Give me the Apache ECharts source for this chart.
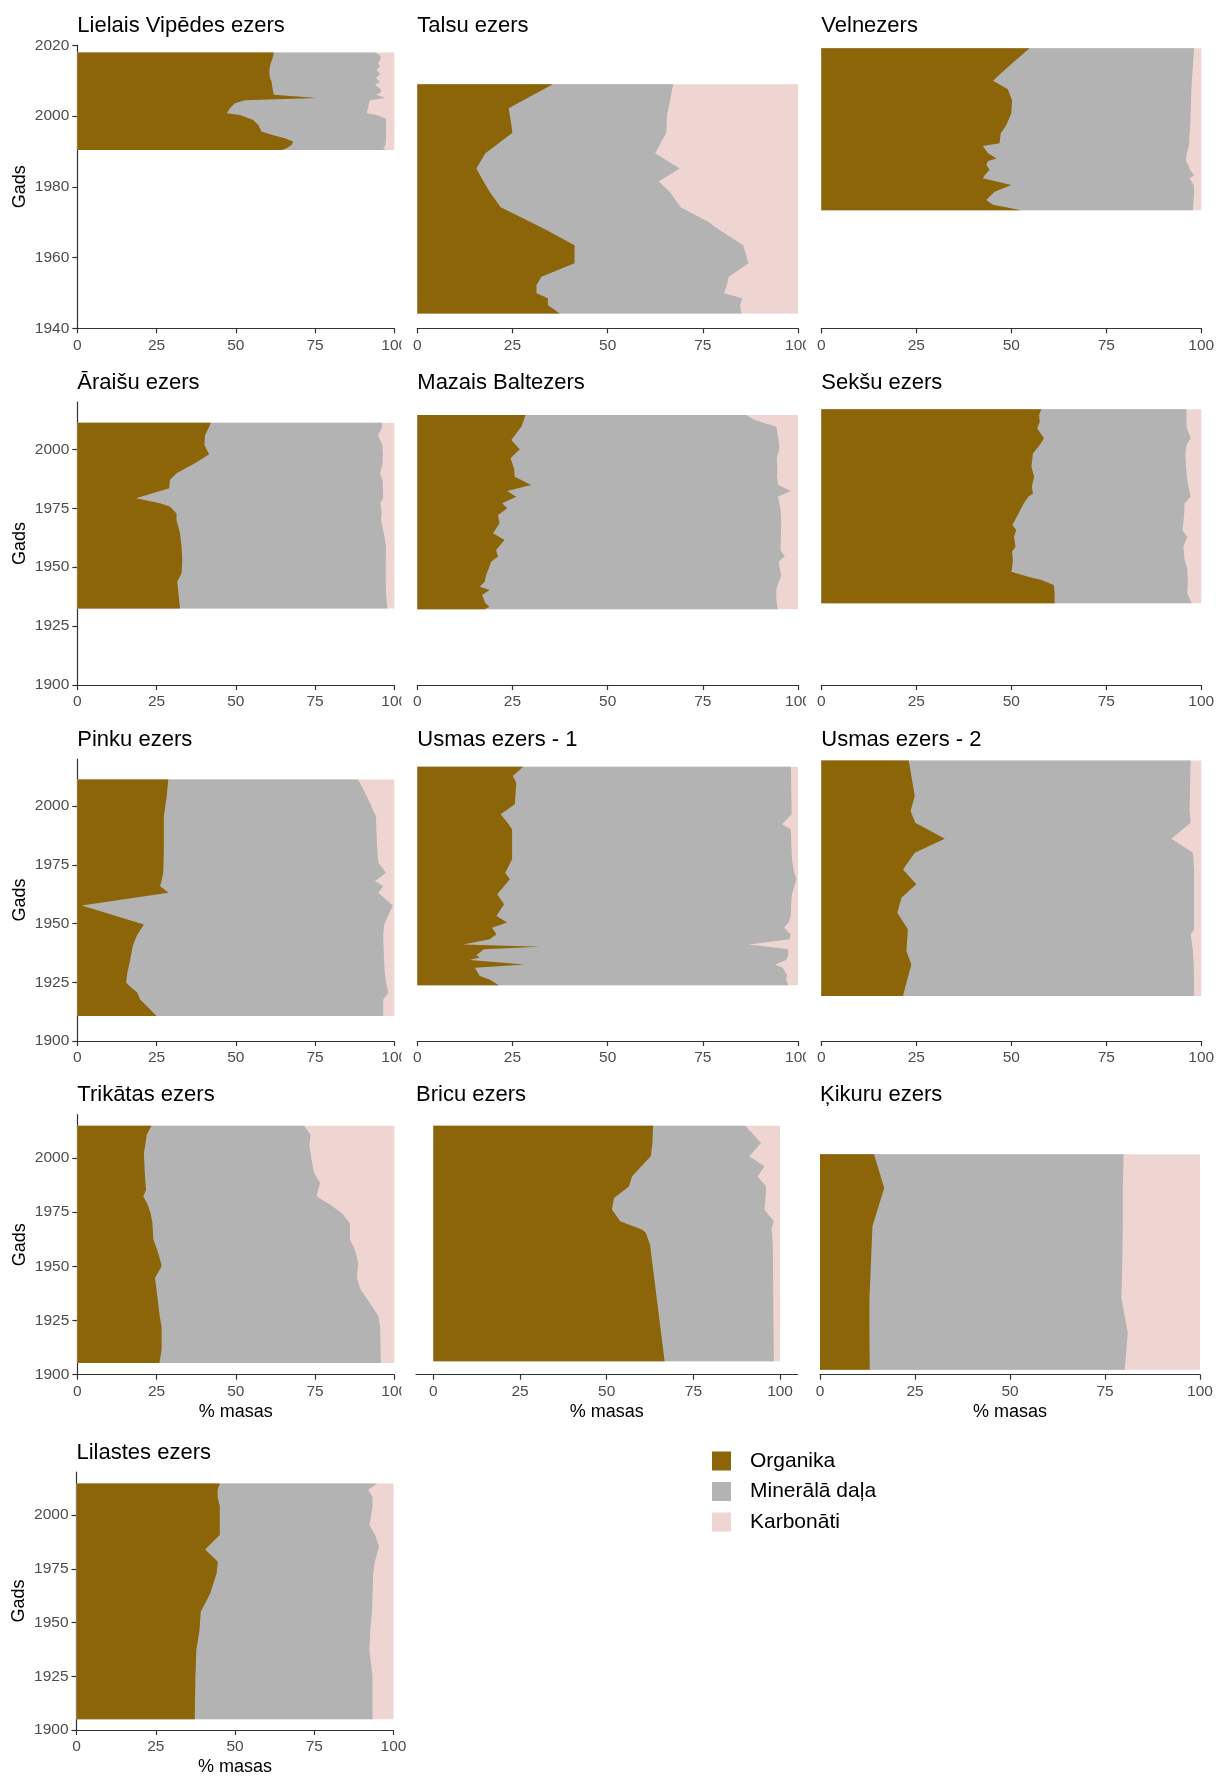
<!DOCTYPE html>
<html>
<head>
<meta charset="utf-8">
<title>Nogulumu sastāvs</title>
<script src="https://cdn.jsdelivr.net/npm/echarts@6/dist/echarts.min.js"></script>
<style>
  html, body { margin: 0; padding: 0; background: #ffffff; }
  #chart { width: 1216px; height: 1778px; }
</style>
</head>
<body>
<div id="chart"></div>
<script>
// Sediment composition by lake: organic, mineral and carbonate shares (% of mass) per dated layer.
// Years run from the core top (newest) to the bottom (oldest).

// Lielais Vipēdes ezers
const vipedesYears     = [2018.0, 2017.2, 2016.3, 2014.9, 2014.0, 2013.0, 2011.9, 2010.7, 2009.7, 2008.8, 2007.8, 2006.9, 2006.0, 2005.1, 2004.5, 2003.6, 2002.2, 2000.8, 2000.3, 1999.4, 1998.9, 1997.5, 1995.6, 1994.6, 1993.7, 1992.8, 1991.8, 1990.9, 1990.4];
const vipedesOrganic   = [62.0, 61.8, 61.6, 61.0, 60.8, 60.6, 60.6, 60.8, 61.3, 61.4, 61.6, 61.8, 62.0, 75.5, 52.9, 49.7, 48.2, 47.1, 51.3, 54.0, 55.5, 57.1, 58.1, 61.8, 65.5, 68.1, 67.6, 66.0, 64.5];
const vipedesMineral   = [31.9, 33.7, 34.1, 33.9, 34.7, 33.8, 34.9, 33.4, 34.2, 32.5, 33.9, 34.2, 32.4, 21.6, 39.4, 42.3, 43.5, 44.2, 43.1, 43.1, 41.9, 40.3, 39.3, 35.6, 31.9, 29.2, 29.6, 30.5, 32.9];
const vipedesCarbonate = [6.1, 4.5, 4.3, 5.1, 4.5, 5.6, 4.5, 5.8, 4.5, 6.1, 4.5, 4.0, 5.6, 2.9, 7.7, 8.0, 8.3, 8.7, 5.6, 2.9, 2.6, 2.6, 2.6, 2.6, 2.6, 2.7, 2.8, 3.5, 2.6];

// Talsu ezers
const talsuYears     = [2009.0, 2002.2, 2000.3, 1995.3, 1989.5, 1985.2, 1981.5, 1978.6, 1974.2, 1970.1, 1967.8, 1963.5, 1958.4, 1954.6, 1952.2, 1949.9, 1948.5, 1946.6, 1944.2];
const talsuOrganic   = [35.6, 24.0, 24.3, 25.0, 17.9, 15.5, 17.4, 19.0, 21.9, 29.6, 33.9, 41.3, 41.3, 32.6, 31.3, 31.3, 34.3, 34.3, 37.4];
const talsuMineral   = [31.6, 42.0, 41.3, 40.4, 44.6, 53.4, 46.0, 47.3, 47.3, 46.8, 45.5, 44.3, 45.7, 49.2, 50.0, 49.3, 51.1, 50.5, 47.7];
const talsuCarbonate = [32.8, 34.0, 34.4, 34.6, 37.5, 31.1, 36.6, 33.7, 30.8, 23.6, 20.6, 14.4, 13.0, 18.2, 18.7, 19.4, 14.6, 15.2, 14.9];

// Velnezers
const velnYears     = [2019.2, 2015.9, 2012.6, 2010.0, 2007.6, 2004.5, 2000.8, 1997.5, 1995.1, 1992.3, 1991.5, 1989.5, 1988.0, 1987.3, 1986.2, 1984.8, 1983.3, 1982.4, 1980.5, 1978.6, 1976.3, 1974.9, 1973.4];
const velnOrganic   = [54.8, 51.3, 47.8, 45.2, 49.1, 50.2, 50.0, 48.7, 47.2, 46.9, 42.5, 43.9, 46.1, 43.9, 43.4, 44.3, 43.0, 42.5, 50.0, 45.6, 43.4, 45.2, 52.6];
const velnMineral   = [43.3, 46.6, 49.9, 52.3, 48.3, 47.1, 47.2, 48.4, 49.7, 49.9, 54.2, 52.3, 49.9, 52.1, 53.1, 52.7, 55.1, 54.4, 48.0, 52.5, 54.6, 52.7, 45.2];
const velnCarbonate = [1.9, 2.1, 2.3, 2.5, 2.6, 2.7, 2.8, 2.9, 3.1, 3.2, 3.3, 3.8, 4.0, 4.0, 3.5, 3.0, 1.9, 3.1, 2.0, 1.9, 2.0, 2.1, 2.2];

// Āraišu ezers
const araisuYears     = [2011.3, 2009.6, 2006.1, 2004.0, 2001.8, 1997.9, 1994.1, 1989.8, 1987.0, 1983.5, 1979.2, 1977.1, 1975.7, 1972.8, 1970.0, 1964.4, 1958.7, 1953.0, 1947.4, 1943.8, 1938.9, 1932.5];
const araisuOrganic   = [42.1, 41.6, 40.3, 40.2, 40.1, 41.6, 37.1, 31.3, 29.2, 29.0, 18.5, 26.1, 29.2, 31.3, 31.3, 32.4, 32.9, 33.1, 32.9, 31.5, 31.9, 32.4];
const araisuMineral   = [53.9, 54.6, 54.6, 55.3, 56.1, 54.8, 59.2, 64.2, 67.1, 67.4, 78.0, 69.4, 66.6, 64.7, 64.5, 64.3, 64.5, 64.2, 64.4, 65.8, 65.5, 65.4];
const araisuCarbonate = [4.0, 3.8, 5.1, 4.5, 3.8, 3.6, 3.7, 4.5, 3.7, 3.6, 3.5, 4.5, 4.2, 4.0, 4.2, 3.3, 2.6, 2.7, 2.7, 2.7, 2.6, 2.2];

// Mazais Baltezers
const baltYears     = [2014.6, 2012.5, 2009.6, 2004.0, 2000.0, 1996.2, 1991.9, 1988.4, 1984.9, 1982.3, 1979.9, 1977.1, 1975.0, 1972.1, 1968.6, 1964.4, 1961.5, 1957.3, 1954.5, 1952.3, 1948.8, 1946.7, 1943.8, 1941.7, 1940.3, 1938.2, 1934.7, 1933.2, 1932.1];
const baltOrganic   = [28.4, 28.0, 27.3, 24.7, 26.9, 24.5, 25.4, 25.6, 29.9, 23.6, 26.0, 22.3, 23.6, 21.2, 21.6, 19.9, 22.9, 20.7, 21.2, 19.4, 18.6, 18.1, 17.7, 16.4, 19.0, 17.0, 17.9, 19.0, 17.7];
const baltMineral   = [58.0, 60.6, 67.0, 70.2, 68.2, 69.9, 69.2, 68.9, 64.9, 74.5, 68.7, 72.8, 71.8, 74.3, 74.0, 75.6, 72.6, 74.7, 75.3, 75.5, 76.7, 77.5, 77.3, 78.1, 75.3, 77.3, 76.5, 75.6, 77.0];
const baltCarbonate = [13.6, 11.4, 5.7, 5.1, 4.9, 5.6, 5.4, 5.5, 5.2, 1.9, 5.3, 4.9, 4.6, 4.5, 4.4, 4.5, 4.5, 4.6, 3.5, 5.1, 4.7, 4.4, 5.0, 5.5, 5.7, 5.7, 5.6, 5.4, 5.3];

// Sekšu ezers
const seksuYears     = [2017.0, 2014.6, 2011.7, 2008.9, 2004.7, 2001.8, 1998.3, 1992.6, 1988.4, 1984.2, 1981.3, 1979.9, 1977.1, 1972.8, 1967.9, 1965.8, 1962.9, 1958.7, 1956.6, 1953.0, 1949.5, 1948.1, 1945.9, 1944.6, 1942.4, 1938.9, 1934.7];
const seksuOrganic   = [57.9, 57.3, 57.5, 56.8, 58.6, 57.5, 55.7, 55.3, 56.0, 55.4, 55.7, 54.5, 53.3, 51.9, 50.3, 51.3, 50.7, 51.1, 50.2, 50.4, 50.2, 50.0, 54.4, 57.9, 61.2, 61.4, 61.4];
const seksuMineral   = [38.2, 38.8, 38.6, 39.4, 38.6, 38.6, 40.1, 40.7, 40.2, 41.2, 41.3, 42.7, 42.3, 43.6, 44.9, 43.7, 45.6, 44.2, 45.2, 45.2, 46.1, 46.3, 42.0, 38.6, 35.2, 34.9, 36.1];
const seksuCarbonate = [3.9, 3.9, 3.9, 3.8, 2.8, 3.9, 4.2, 4.0, 3.8, 3.4, 3.0, 2.8, 4.4, 4.5, 4.8, 5.0, 3.7, 4.7, 4.6, 4.4, 3.7, 3.7, 3.6, 3.5, 3.6, 3.7, 2.5];

// Pinku ezers
const pinkuYears     = [2011.3, 2004.3, 1999.3, 1995.7, 1981.6, 1975.9, 1971.6, 1968.1, 1966.0, 1963.1, 1957.7, 1949.6, 1944.7, 1940.4, 1934.0, 1929.1, 1924.8, 1922.7, 1920.6, 1917.7, 1914.9, 1910.6];
const pinkuOrganic   = [28.7, 28.2, 27.7, 27.3, 27.3, 27.2, 27.1, 26.6, 26.1, 28.7, 1.4, 21.0, 18.7, 17.5, 16.6, 15.8, 15.4, 17.1, 18.9, 19.8, 21.9, 25.0];
const pinkuMineral   = [59.9, 63.1, 65.3, 66.9, 67.3, 67.8, 70.3, 67.3, 70.4, 66.3, 98.1, 75.8, 77.8, 79.1, 80.2, 81.2, 82.0, 80.7, 79.2, 76.7, 74.6, 71.5];
const pinkuCarbonate = [11.4, 8.7, 7.0, 5.8, 5.4, 5.0, 2.6, 6.1, 3.5, 5.0, 0.5, 3.2, 3.5, 3.4, 3.2, 3.0, 2.6, 2.2, 1.9, 3.5, 3.5, 3.5];

// Usmas ezers - 1
const usma1Years     = [2016.7, 2012.8, 2009.9, 2000.7, 1996.5, 1992.2, 1990.1, 1977.3, 1971.6, 1968.8, 1962.4, 1958.2, 1953.2, 1950.4, 1948.2, 1945.4, 1943.3, 1941.1, 1940.1, 1939.0, 1936.5, 1935.5, 1934.5, 1932.6, 1931.2, 1927.7, 1926.2, 1923.7];
const usma1Organic   = [27.8, 25.1, 26.0, 25.6, 21.9, 24.0, 24.9, 24.9, 23.1, 24.3, 21.0, 22.8, 20.8, 23.6, 19.6, 20.8, 19.0, 12.0, 32.1, 17.5, 15.5, 16.4, 13.7, 28.2, 15.1, 16.4, 19.0, 21.4];
const usma1Mineral   = [70.3, 73.1, 72.2, 72.7, 76.4, 71.8, 73.2, 73.5, 75.9, 75.3, 77.4, 75.4, 77.3, 73.9, 76.7, 77.3, 78.8, 75.0, 60.0, 79.9, 81.9, 80.8, 83.2, 65.8, 80.9, 80.8, 77.8, 76.1];
const usma1Carbonate = [1.9, 1.8, 1.8, 1.7, 1.7, 4.2, 1.9, 1.6, 1.0, 0.4, 1.6, 1.8, 1.9, 2.5, 3.7, 1.9, 2.2, 13.0, 7.9, 2.6, 2.6, 2.8, 3.1, 6.0, 4.0, 2.8, 3.2, 2.5];

// Usmas ezers - 2
const usma2Years     = [2019.4, 2012.8, 2004.3, 1997.9, 1992.9, 1986.1, 1980.1, 1973.0, 1966.7, 1961.0, 1954.6, 1947.5, 1945.4, 1938.3, 1932.6, 1924.8, 1919.1];
const usma2Organic   = [23.0, 23.7, 24.6, 23.5, 24.7, 32.5, 24.6, 21.5, 25.0, 21.1, 20.0, 22.8, 22.7, 22.4, 23.7, 22.4, 21.5];
const usma2Mineral   = [74.2, 73.4, 72.4, 73.4, 72.5, 59.6, 73.2, 76.6, 73.1, 77.0, 78.1, 75.3, 74.5, 75.4, 74.3, 75.7, 76.6];
const usma2Carbonate = [2.8, 2.9, 3.0, 3.1, 2.8, 7.9, 2.2, 1.9, 1.9, 1.9, 1.9, 1.9, 2.8, 2.2, 2.0, 1.9, 1.9];

// Trikātas ezers
const trikatasYears     = [2014.9, 2010.8, 2005.4, 2002.3, 1999.2, 1993.1, 1988.5, 1985.4, 1982.3, 1978.5, 1974.6, 1970.0, 1962.3, 1957.7, 1951.5, 1950.0, 1944.6, 1939.2, 1933.1, 1926.9, 1922.3, 1911.5, 1905.4];
const trikatasOrganic   = [23.4, 21.9, 21.4, 21.0, 21.1, 21.3, 21.5, 21.7, 20.8, 22.2, 23.1, 23.7, 24.0, 25.2, 26.4, 26.6, 24.5, 25.0, 25.5, 26.0, 26.6, 26.6, 25.9];
const trikatasMineral   = [48.1, 51.7, 51.8, 52.6, 52.8, 53.4, 55.1, 54.3, 54.7, 57.5, 60.3, 62.3, 62.0, 62.4, 62.2, 61.9, 63.7, 64.4, 66.8, 69.0, 68.9, 69.1, 69.8];
const trikatasCarbonate = [28.5, 26.4, 26.8, 26.4, 26.1, 25.3, 23.4, 24.0, 24.5, 20.3, 16.6, 14.0, 14.0, 12.4, 11.4, 11.5, 11.8, 10.6, 7.7, 5.0, 4.5, 4.3, 4.3];

// Bricu ezers
const bricuYears     = [2014.9, 2012.3, 2006.9, 2000.8, 1996.2, 1991.5, 1986.9, 1981.5, 1976.2, 1970.8, 1966.9, 1965.4, 1960.0, 1906.2];
const bricuOrganic   = [63.4, 63.3, 63.2, 62.7, 60.0, 57.3, 56.4, 52.1, 51.5, 53.9, 60.3, 61.3, 62.5, 66.7];
const bricuMineral   = [26.6, 28.2, 31.3, 28.4, 35.5, 36.2, 39.6, 43.7, 44.0, 44.3, 37.2, 36.4, 35.4, 31.5];
const bricuCarbonate = [10.0, 8.5, 5.5, 8.9, 4.5, 6.5, 4.0, 4.2, 4.5, 1.8, 2.5, 2.3, 2.1, 1.8];

// Ķikuru ezers
const kikuruYears     = [2001.8, 1986.2, 1968.5, 1946.9, 1935.4, 1919.2, 1902.3];
const kikuruOrganic   = [14.2, 16.9, 13.8, 13.3, 13.0, 13.0, 13.1];
const kikuruMineral   = [65.7, 62.8, 65.9, 66.2, 66.3, 68.0, 67.1];
const kikuruCarbonate = [20.1, 20.3, 20.3, 20.5, 20.7, 19.0, 19.8];

// Lilastes ezers
const lilastesYears     = [2014.7, 2011.6, 2008.5, 2003.9, 1995.3, 1990.7, 1985.3, 1984.0, 1978.3, 1972.9, 1963.6, 1955.0, 1946.5, 1937.2, 1924.8, 1905.0];
const lilastesOrganic   = [45.2, 44.5, 44.5, 45.2, 45.2, 45.2, 41.5, 40.6, 44.6, 44.2, 42.2, 39.2, 38.8, 37.8, 37.5, 37.3];
const lilastesMineral   = [49.6, 47.5, 48.9, 48.2, 47.2, 49.0, 53.9, 54.6, 49.5, 49.4, 51.2, 54.0, 53.9, 54.6, 55.9, 56.1];
const lilastesCarbonate = [5.2, 8.0, 6.6, 6.6, 7.6, 5.8, 4.6, 4.8, 5.9, 6.4, 6.6, 6.8, 7.3, 7.6, 6.6, 6.6];

// Legend entries and tick values
const components = ['Organika', 'Minerālā daļa', 'Karbonāti'];
const shareTicks = [0, 25, 50, 75, 100];
const yearTicksTop = [1940, 1960, 1980, 2000, 2020];
const yearTicks = [1900, 1925, 1950, 1975, 2000];

// ---------------------------------------------------------------------------
// Styling and panel layout
const FONT = '"Liberation Sans", Arial, Helvetica, sans-serif';
const componentColors = ['#8B6508', '#B3B3B3', '#EED5D2'];
const axisColor = '#333333';
const tickTextColor = '#4D4D4D';

const rowLayout = [
  { top: 45.3,   height: 283,   yMin: 1940, yMax: 2020, ticks: yearTicksTop },
  { top: 402.2,  height: 282.8, yMin: 1900, yMax: 2020, ticks: yearTicks },
  { top: 759,    height: 282,   yMin: 1900, yMax: 2020, ticks: yearTicks },
  { top: 1114.7, height: 260,   yMin: 1900, yMax: 2020, ticks: yearTicks },
  { top: 1472,   height: 258,   yMin: 1900, yMax: 2020, ticks: yearTicks }
];
const colLayout = [
  { left: 77.3,  width: 317 },
  { left: 417.3, width: 380.7 },
  { left: 821.3, width: 380 }
];

const lakes = [
  { title: 'Lielais Vipēdes ezers', years: vipedesYears, shares: [vipedesOrganic, vipedesMineral, vipedesCarbonate], row: 0, col: 0, cut: 401.5 },
  { title: 'Talsu ezers', years: talsuYears, shares: [talsuOrganic, talsuMineral, talsuCarbonate], row: 0, col: 1, cut: 806 },
  { title: 'Velnezers', years: velnYears, shares: [velnOrganic, velnMineral, velnCarbonate], row: 0, col: 2 },
  { title: 'Āraišu ezers', years: araisuYears, shares: [araisuOrganic, araisuMineral, araisuCarbonate], row: 1, col: 0, cut: 401.5 },
  { title: 'Mazais Baltezers', years: baltYears, shares: [baltOrganic, baltMineral, baltCarbonate], row: 1, col: 1, cut: 806 },
  { title: 'Sekšu ezers', years: seksuYears, shares: [seksuOrganic, seksuMineral, seksuCarbonate], row: 1, col: 2 },
  { title: 'Pinku ezers', years: pinkuYears, shares: [pinkuOrganic, pinkuMineral, pinkuCarbonate], row: 2, col: 0, cut: 401.5 },
  { title: 'Usmas ezers - 1', years: usma1Years, shares: [usma1Organic, usma1Mineral, usma1Carbonate], row: 2, col: 1, cut: 806 },
  { title: 'Usmas ezers - 2', years: usma2Years, shares: [usma2Organic, usma2Mineral, usma2Carbonate], row: 2, col: 2 },
  { title: 'Trikātas ezers', years: trikatasYears, shares: [trikatasOrganic, trikatasMineral, trikatasCarbonate], row: 3, col: 0, cut: 401.5 },
  { title: 'Bricu ezers', years: bricuYears, shares: [bricuOrganic, bricuMineral, bricuCarbonate], row: 3, col: 1, left: 416, width: 381.4, xMin: -5, xMax: 105 },
  { title: 'Ķikuru ezers', years: kikuruYears, shares: [kikuruOrganic, kikuruMineral, kikuruCarbonate], row: 3, col: 2, left: 820, width: 380 },
  { title: 'Lilastes ezers', years: lilastesYears, shares: [lilastesOrganic, lilastesMineral, lilastesCarbonate], row: 4, col: 0, left: 76.5, width: 317 }
];

const grid = [], xAxis = [], yAxis = [], series = [], title = [], graphic = [];
const lineStyle = { color: axisColor, width: 1.2 };
const plainNumber = function (v) { return String(v); };

lakes.forEach(function (lake, i) {
  const r = rowLayout[lake.row];
  const c = colLayout[lake.col];
  const left = lake.left !== undefined ? lake.left : c.left;
  const width = lake.width !== undefined ? lake.width : c.width;
  const xMin = lake.xMin !== undefined ? lake.xMin : 0;
  const xMax = lake.xMax !== undefined ? lake.xMax : 100;
  const bottomRow = lake.row >= 3;

  grid.push({ left: left, top: r.top, width: width, height: r.height, outerBoundsMode: 'none' });

  title.push({
    text: lake.title, left: left, top: r.top - 30.5, padding: 0,
    textStyle: { fontFamily: FONT, fontSize: 22, fontWeight: 'normal', color: '#000000' }
  });

  const xAx = {
    type: 'value', gridIndex: i, min: xMin, max: xMax,
    axisLine: { show: true, onZero: false, lineStyle: lineStyle },
    axisTick: { show: true, length: 5, lineStyle: lineStyle, customValues: shareTicks },
    axisLabel: { color: tickTextColor, fontFamily: FONT, fontSize: 15.5, margin: 9, customValues: shareTicks, formatter: plainNumber },
    splitLine: { show: false }
  };
  if (xMin === 0) xAx.interval = 25;
  if (bottomRow) {
    xAx.name = '% masas';
    xAx.nameLocation = 'middle';
    xAx.nameGap = 28;
    xAx.nameTextStyle = { fontFamily: FONT, fontSize: 18, color: '#000000' };
  }
  xAxis.push(xAx);

  const yAx = {
    type: 'value', gridIndex: i, min: r.yMin, max: r.yMax, show: lake.col === 0,
    axisLine: { show: true, onZero: false, lineStyle: lineStyle },
    axisTick: { show: true, length: 5, lineStyle: lineStyle, customValues: r.ticks },
    axisLabel: { color: tickTextColor, fontFamily: FONT, fontSize: 15.5, margin: 8, customValues: r.ticks, formatter: plainNumber },
    splitLine: { show: false }
  };
  if (lake.col === 0) {
    yAx.name = 'Gads';
    yAx.nameLocation = 'middle';
    yAx.nameRotate = 90;
    yAx.nameGap = 48;
    yAx.nameTextStyle = { fontFamily: FONT, fontSize: 18, color: '#000000' };
  }
  yAxis.push(yAx);

  // cumulative right edge of each layer: organic, organic+mineral, all three
  const bounds = [];
  let running = lake.years.map(function () { return 0; });
  lake.shares.forEach(function (arr) {
    running = running.map(function (v, k) { return v + arr[k]; });
    bounds.push(running);
  });

  // layers are painted from the widest (carbonates) to the narrowest (organic)
  for (let p = 2; p >= 0; p--) {
    const upper = bounds[p];
    series.push({
      type: 'custom',
      name: components[p],
      coordinateSystem: 'cartesian2d',
      xAxisIndex: i, yAxisIndex: i,
      itemStyle: { color: componentColors[p] },
      data: lake.years.map(function (y, k) { return [upper[k], y]; }),
      encode: { x: 0, y: 1 },
      clip: true,
      silent: true,
      renderItem: function (params, api) {
        if (params.dataIndex !== 0) return null;
        const ys = lake.years;
        const pts = ys.map(function (y, k) { return api.coord([upper[k], y]); });
        pts.push(api.coord([0, ys[ys.length - 1]]));
        pts.push(api.coord([0, ys[0]]));
        return { type: 'polygon', shape: { points: pts }, style: { fill: api.visual('color') } };
      }
    });
  }

  // the neighbouring panel trims the last digit of "100"
  if (lake.cut) {
    graphic.push({
      type: 'rect', z: 100, silent: true,
      shape: { x: lake.cut, y: r.top + r.height + 3, width: 7, height: 22 },
      style: { fill: '#ffffff' }
    });
  }
});

const chart = echarts.init(document.getElementById('chart'), null, { renderer: 'canvas' });
chart.setOption({
  animation: false,
  backgroundColor: '#ffffff',
  title: title,
  grid: grid,
  xAxis: xAxis,
  yAxis: yAxis,
  series: series,
  graphic: graphic,
  legend: {
    data: components,
    orient: 'vertical',
    left: 712, top: 1450.5,
    padding: 0,
    icon: 'rect',
    itemWidth: 19, itemHeight: 19, itemGap: 9.5,
    selectedMode: false,
    formatter: function (name) { return '{t|' + name + '}'; },
    textStyle: {
      fontFamily: FONT, fontSize: 21, color: '#000000',
      rich: { t: { fontFamily: FONT, fontSize: 21, color: '#000000', padding: [0, 0, 0, 14] } }
    }
  }
});
</script>
</body>
</html>
